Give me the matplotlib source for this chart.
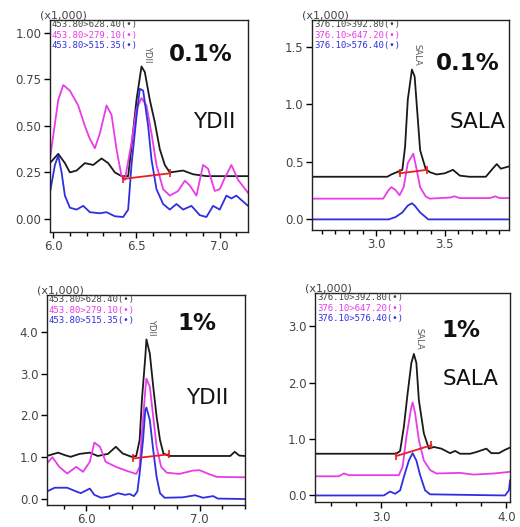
import matplotlib
matplotlib.use("Agg")
import matplotlib.pyplot as plt

# ---- YDII 0.1% ----
ydii01_black_x = [5.98, 6.03, 6.07, 6.10, 6.14, 6.19, 6.24, 6.29, 6.33, 6.37, 6.41, 6.45, 6.47, 6.50, 6.53,
                  6.55, 6.58, 6.61, 6.64, 6.67, 6.70, 6.78, 6.84, 6.92, 7.17]
ydii01_black_y = [0.30, 0.35, 0.30, 0.25, 0.26, 0.30, 0.29, 0.325, 0.30, 0.25, 0.23, 0.23, 0.39, 0.64, 0.82,
                  0.79, 0.64, 0.52, 0.375, 0.29, 0.25, 0.26, 0.24, 0.23, 0.23]
ydii01_mag_x = [5.98, 6.03, 6.06, 6.10, 6.15, 6.19, 6.22, 6.25, 6.28, 6.32, 6.35, 6.38, 6.41, 6.43, 6.47,
                6.50, 6.53, 6.56, 6.59, 6.62, 6.66, 6.70, 6.75, 6.79, 6.82, 6.86, 6.90, 6.93, 6.97, 7.00,
                7.03, 7.07, 7.11, 7.17]
ydii01_mag_y = [0.32, 0.64, 0.72, 0.69, 0.61, 0.50, 0.43, 0.38, 0.46, 0.61, 0.56, 0.375, 0.23, 0.21, 0.41,
                0.59, 0.65, 0.61, 0.46, 0.29, 0.16, 0.125, 0.15, 0.205, 0.18, 0.125, 0.29, 0.27, 0.15, 0.16,
                0.22, 0.29, 0.21, 0.14]
ydii01_blue_x = [5.98, 6.01, 6.03, 6.05, 6.07, 6.10, 6.14, 6.18, 6.22, 6.28, 6.32, 6.37, 6.42, 6.45, 6.47,
                 6.50, 6.52, 6.54, 6.57, 6.59, 6.62, 6.66, 6.70, 6.74, 6.78, 6.83, 6.88, 6.92, 6.96, 7.00,
                 7.04, 7.07, 7.10, 7.17]
ydii01_blue_y = [0.14, 0.29, 0.34, 0.25, 0.125, 0.06, 0.05, 0.07, 0.036, 0.03, 0.036, 0.014, 0.01, 0.05, 0.29,
                 0.55, 0.70, 0.69, 0.50, 0.32, 0.16, 0.08, 0.05, 0.08, 0.05, 0.07, 0.02, 0.01, 0.07, 0.05,
                 0.125, 0.11, 0.125, 0.07]
ydii01_base = [(6.42, 0.215), (6.70, 0.245)]

# ---- SALA 0.1% ----
sala01_black_x = [2.53, 3.08, 3.11, 3.15, 3.19, 3.21, 3.23, 3.26, 3.28, 3.30, 3.32, 3.36, 3.39, 3.44, 3.50,
                  3.56, 3.61, 3.68, 3.80, 3.85, 3.88, 3.91, 3.97]
sala01_black_y = [0.37, 0.37, 0.39, 0.41, 0.43, 0.63, 1.04, 1.30, 1.24, 0.92, 0.60, 0.44, 0.41, 0.39, 0.40,
                  0.43, 0.38, 0.37, 0.37, 0.44, 0.48, 0.44, 0.46]
sala01_mag_x = [2.53, 3.05, 3.09, 3.11, 3.14, 3.17, 3.20, 3.23, 3.27, 3.29, 3.32, 3.36, 3.39, 3.54, 3.57,
                3.61, 3.83, 3.87, 3.90, 3.97]
sala01_mag_y = [0.18, 0.18, 0.255, 0.28, 0.255, 0.21, 0.28, 0.49, 0.57, 0.46, 0.28, 0.20, 0.18, 0.19, 0.20,
                0.185, 0.185, 0.20, 0.185, 0.185]
sala01_blue_x = [2.53, 3.09, 3.14, 3.19, 3.23, 3.26, 3.28, 3.32, 3.36, 3.38, 3.97]
sala01_blue_y = [0.0, 0.0, 0.02, 0.06, 0.12, 0.14, 0.12, 0.06, 0.02, 0.0, 0.0]
sala01_base = [(3.17, 0.40), (3.37, 0.43)]

# ---- YDII 1% ----
ydii1_black_x = [5.65, 5.75, 5.81, 5.86, 5.94, 6.03, 6.10, 6.19, 6.26, 6.32, 6.40, 6.44, 6.47, 6.49, 6.52,
                 6.53, 6.56, 6.59, 6.62, 6.65, 6.68, 6.73, 7.27, 7.31, 7.35, 7.40]
ydii1_black_y = [1.03, 1.11, 1.05, 1.01, 1.08, 1.11, 1.03, 1.08, 1.25, 1.09, 1.01, 1.03, 1.41, 2.37, 3.40,
                 3.82, 3.48, 2.69, 1.97, 1.41, 1.09, 1.03, 1.03, 1.13, 1.04, 1.03]
ydii1_mag_x = [5.65, 5.70, 5.76, 5.83, 5.91, 5.97, 6.03, 6.07, 6.12, 6.17, 6.26, 6.35, 6.44, 6.47, 6.49,
               6.52, 6.53, 6.56, 6.59, 6.62, 6.66, 6.71, 6.82, 6.94, 7.00, 7.07, 7.15, 7.40]
ydii1_mag_y = [0.85, 1.0, 0.77, 0.61, 0.77, 0.65, 0.89, 1.35, 1.25, 0.89, 0.77, 0.68, 0.60, 0.77, 1.57,
               2.61, 2.88, 2.69, 1.97, 1.25, 0.77, 0.63, 0.60, 0.68, 0.69, 0.61, 0.53, 0.52]
ydii1_blue_x = [5.65, 5.72, 5.83, 5.91, 5.95, 6.03, 6.07, 6.13, 6.20, 6.28, 6.34, 6.38, 6.42, 6.45, 6.47,
                6.50, 6.52, 6.53, 6.56, 6.59, 6.62, 6.65, 6.69, 6.85, 6.96, 7.03, 7.12, 7.16, 7.40]
ydii1_blue_y = [0.18, 0.27, 0.27, 0.18, 0.14, 0.25, 0.10, 0.03, 0.06, 0.14, 0.10, 0.12, 0.07, 0.18, 0.61,
                1.41, 2.13, 2.19, 1.89, 1.17, 0.53, 0.14, 0.03, 0.04, 0.09, 0.03, 0.07, 0.01, 0.0]
ydii1_base = [(6.41, 0.97), (6.73, 1.07)]

# ---- SALA 1% ----
sala1_black_x = [2.47, 3.12, 3.15, 3.18, 3.21, 3.24, 3.26, 3.28, 3.30, 3.34, 3.38, 3.42, 3.48, 3.55, 3.59,
                 3.63, 3.71, 3.76, 3.84, 3.88, 3.94, 3.99, 4.03]
sala1_black_y = [0.74, 0.74, 0.79, 1.22, 1.81, 2.35, 2.51, 2.35, 1.69, 1.10, 0.83, 0.86, 0.83, 0.75, 0.79,
                 0.74, 0.74, 0.77, 0.83, 0.75, 0.75, 0.81, 0.85]
sala1_mag_x = [2.47, 2.66, 2.70, 2.74, 3.14, 3.17, 3.20, 3.24, 3.25, 3.27, 3.30, 3.34, 3.39, 3.44, 3.63,
               3.74, 3.90, 4.03]
sala1_mag_y = [0.34, 0.34, 0.39, 0.36, 0.36, 0.51, 1.04, 1.57, 1.65, 1.46, 0.98, 0.62, 0.45, 0.39, 0.40,
               0.37, 0.39, 0.42]
sala1_blue_x = [2.47, 3.02, 3.07, 3.11, 3.15, 3.18, 3.22, 3.25, 3.28, 3.31, 3.35, 3.39, 3.99, 4.02, 4.03]
sala1_blue_y = [0.0, 0.0, 0.07, 0.03, 0.09, 0.33, 0.62, 0.75, 0.62, 0.36, 0.09, 0.02, 0.0, 0.09, 0.27]
sala1_base = [(3.12, 0.70), (3.40, 0.89)]

ydii_channels = ["453.80>628.40(\u2022)", "453.80>279.10(\u2022)", "453.80>515.35(\u2022)"]
sala_channels = ["376.10>392.80(\u2022)", "376.10>647.20(\u2022)", "376.10>576.40(\u2022)"]

BLACK = "#1a1a1a"
MAGENTA = "#e83ce8"
BLUE = "#2f2fe0"
RED = "#e62020"
TICKCOL = "#444444"


def draw_panel(ax, traces, base, channels, xlim, ylim, yticks, yfmt, xmajor, xminor,
               conc, name, conc_pos, name_pos, peak):
    for (x, y), c in zip(traces, [BLACK, MAGENTA, BLUE]):
        ax.plot(x, y, color=c, lw=1.3)
    bx = [p[0] for p in base]
    by = [p[1] for p in base]
    ax.plot(bx, by, color=RED, lw=1.3)
    ax.plot(bx, by, ls="none", marker="|", ms=6, mew=1.2, color=RED)

    ax.set_xlim(*xlim)
    ax.set_ylim(*ylim)
    ax.set_yticks(yticks)
    ax.set_yticklabels([yfmt % v for v in yticks])
    ax.set_xticks(xmajor)
    ax.set_xticklabels(["%.1f" % v for v in xmajor])
    ax.set_xticks(xminor, minor=True)
    ax.tick_params(axis="both", which="major", direction="out", length=4, width=1,
                   labelsize=8.5, labelcolor=TICKCOL, pad=2)
    ax.tick_params(axis="x", which="minor", direction="out", length=3, width=1)
    for sp in ax.spines.values():
        sp.set_linewidth(1.0)
        sp.set_color("#222222")

    ax.text(-0.05, 1.0, "(x1,000)", transform=ax.transAxes, ha="left", va="bottom",
            fontsize=8, color=TICKCOL)
    for i, (label, c) in enumerate(zip(channels, [TICKCOL, MAGENTA, BLUE])):
        ax.text(0.01, 0.978 - i * 0.05, label, transform=ax.transAxes, ha="left", va="center",
                fontsize=6.5, color=c, family="DejaVu Sans Mono")
    ax.annotate(name, xy=peak, xytext=(4, 3), textcoords="offset points", rotation=270,
                ha="center", va="bottom", fontsize=6, color="#555555")
    ax.text(conc_pos[0], conc_pos[1], conc, transform=ax.transAxes, ha="center", va="center",
            fontsize=16.5, fontweight="bold", color="#111111")
    ax.text(name_pos[0], name_pos[1], name, transform=ax.transAxes, ha="center", va="center",
            fontsize=15.5, color="#111111")


fig = plt.figure(figsize=(5.2, 5.27), dpi=100)
ax1 = fig.add_axes([0.096, 0.560, 0.381, 0.402])
ax2 = fig.add_axes([0.600, 0.564, 0.379, 0.398])
ax3 = fig.add_axes([0.090, 0.042, 0.381, 0.398])
ax4 = fig.add_axes([0.606, 0.047, 0.375, 0.397])

draw_panel(ax1,
           [(ydii01_black_x, ydii01_black_y), (ydii01_mag_x, ydii01_mag_y), (ydii01_blue_x, ydii01_blue_y)],
           ydii01_base, ydii_channels, (5.98, 7.17), (-0.07, 1.07),
           [0.0, 0.25, 0.5, 0.75, 1.0], "%.2f", [6.0, 6.5, 7.0],
           [6.1, 6.2, 6.3, 6.4, 6.6, 6.7, 6.8, 6.9, 7.1],
           "0.1%", "YDII", (0.76, 0.835), (0.83, 0.52), (6.535, 0.82))
draw_panel(ax2,
           [(sala01_black_x, sala01_black_y), (sala01_mag_x, sala01_mag_y), (sala01_blue_x, sala01_blue_y)],
           sala01_base, sala_channels, (2.53, 3.97), (-0.09, 1.73),
           [0.0, 0.5, 1.0, 1.5], "%.1f", [3.0, 3.5],
           [2.6, 2.7, 2.8, 2.9, 3.1, 3.2, 3.3, 3.4, 3.6, 3.7, 3.8, 3.9],
           "0.1%", "SALA", (0.79, 0.795), (0.84, 0.515), (3.26, 1.30))
draw_panel(ax3,
           [(ydii1_black_x, ydii1_black_y), (ydii1_mag_x, ydii1_mag_y), (ydii1_blue_x, ydii1_blue_y)],
           ydii1_base, ydii_channels, (5.65, 7.40), (-0.14, 4.88),
           [0.0, 1.0, 2.0, 3.0, 4.0], "%.1f", [6.0, 7.0],
           [5.8, 6.2, 6.4, 6.6, 6.8, 7.2, 7.4],
           "1%", "YDII", (0.76, 0.867), (0.81, 0.51), (6.53, 3.82))
draw_panel(ax4,
           [(sala1_black_x, sala1_black_y), (sala1_mag_x, sala1_mag_y), (sala1_blue_x, sala1_blue_y)],
           sala1_base, sala_channels, (2.47, 4.03), (-0.12, 3.59),
           [0.0, 1.0, 2.0, 3.0], "%.1f", [3.0, 4.0],
           [2.6, 2.8, 3.2, 3.4, 3.6, 3.8],
           "1%", "SALA", (0.75, 0.82), (0.80, 0.59), (3.26, 2.51))

fig.savefig("out.png", dpi=100)
